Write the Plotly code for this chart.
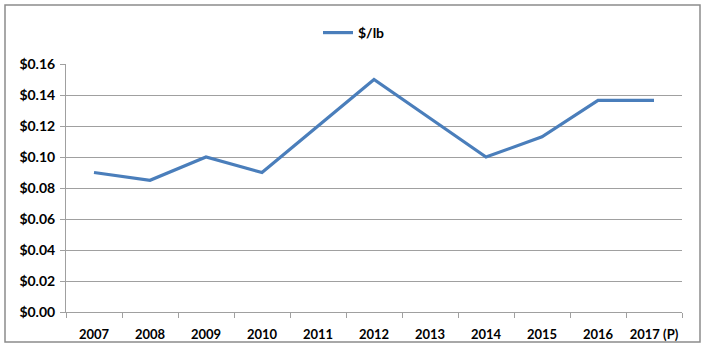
import plotly.graph_objects as go

years = ["2007", "2008", "2009", "2010", "2011", "2012", "2013", "2014", "2015", "2016", "2017 (P)"]
price = [0.090, 0.085, 0.100, 0.090, 0.120, 0.150, 0.125, 0.100, 0.113, 0.1365, 0.1365]
y_ticks = [0.00, 0.02, 0.04, 0.06, 0.08, 0.10, 0.12, 0.14, 0.16]
y_labels = ["$%.2f" % v for v in y_ticks]

W, H = 704, 359
L, R, T, B = 66, 22, 64, 47
pw, ph = W - L - R, H - T - B

def px_x(x):
    return (x - L) / pw

def px_y(y):
    return (H - B - y) / ph

FONT = "Lato"

fig = go.Figure()
fig.add_trace(go.Scatter(
    x=years, y=price, mode="lines", name="<b>$/lb</b>",
    line=dict(color="#4A7EBB", width=3.2),
))

fig.update_layout(
    width=W, height=H,
    margin=dict(l=L, r=R, t=T, b=B, autoexpand=False),
    paper_bgcolor="white", plot_bgcolor="white",
    font=dict(family=FONT, size=13, color="black"),
    showlegend=True,
    legend=dict(orientation="h", x=px_x(354), y=px_y(33), xanchor="center", yanchor="middle",
                font=dict(family=FONT, size=14, color="black")),
    xaxis=dict(
        type="category", showgrid=False, showline=True, linecolor="#A0A0A0", linewidth=1,
        ticks="outside", tickson="boundaries", ticklen=5, tickcolor="#A0A0A0",
        tickangle=0, automargin=False, ticklabelstandoff=10,
        tickfont=dict(family=FONT, size=13, color="black", weight="bold"),
        range=[-0.5, len(years) - 0.5],
    ),
    yaxis=dict(
        range=[0, 0.16], tickvals=y_ticks, ticktext=y_labels, automargin=False,
        showgrid=True, gridcolor="#A0A0A0", gridwidth=1,
        showline=True, linecolor="#A0A0A0", linewidth=1,
        ticks="outside", ticklen=5, tickcolor="#A0A0A0", ticklabelstandoff=2,
        tickfont=dict(family=FONT, size=14, color="black", weight="bold"),
        zeroline=False,
    ),
    shapes=[dict(type="rect", xref="paper", yref="paper",
                 x0=px_x(5), x1=px_x(700), y0=px_y(342), y1=px_y(5),
                 line=dict(color="#8C8C8C", width=1.5), fillcolor="rgba(0,0,0,0)", layer="below")],
)

fig.write_html("out.html", config={"displayModeBar": False},
               post_script="document.body.style.margin='0';document.body.style.overflow='hidden';")
